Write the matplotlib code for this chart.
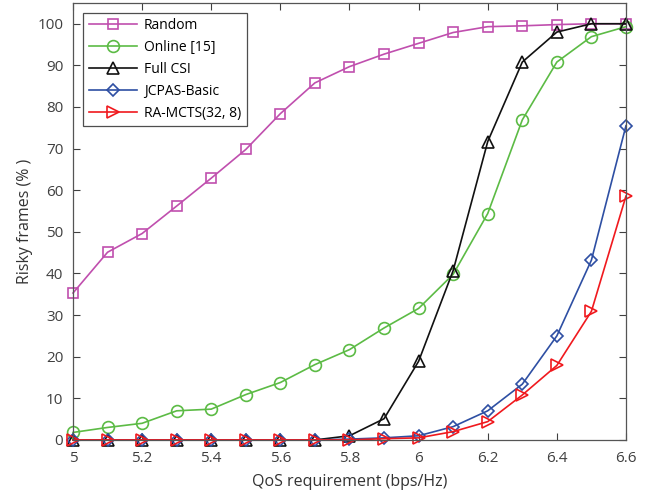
import matplotlib
matplotlib.use('Agg')
import matplotlib.pyplot as plt

plt.rcParams['font.family'] = ['Open Sans', 'DejaVu Sans']

qos = [5.0, 5.1, 5.2, 5.3, 5.4, 5.5, 5.6, 5.7, 5.8, 5.9, 6.0, 6.1, 6.2, 6.3, 6.4, 6.5, 6.6]

random_sel = [35.3, 45.1, 49.6, 56.2, 62.9, 69.8, 78.4, 85.8, 89.7, 92.7, 95.3, 97.9, 99.3, 99.5, 99.8, 100.0, 100.0]
online = [1.8, 3.0, 4.0, 7.0, 7.4, 10.9, 13.8, 18.1, 21.7, 26.9, 31.6, 39.8, 54.4, 76.9, 90.8, 96.9, 99.3]
full_csi = [0, 0, 0, 0, 0, 0, 0, 0, 1.0, 5.1, 18.9, 40.7, 71.7, 90.8, 98.0, 100.0, 100.0]
jcpas = [0, 0, 0, 0, 0, 0, 0, 0, 0.2, 0.5, 1.0, 3.2, 7.0, 13.4, 25.0, 43.2, 75.5]
ra_mcts = [0, 0, 0, 0, 0, 0, 0, 0, 0, 0.3, 0.5, 2.0, 4.4, 10.8, 17.9, 30.9, 58.6]

labels = ['Random', 'Online [15]', 'Full CSI', 'JCPAS-Basic', 'RA-MCTS(32, 8)']
colors = ['#c04fae', '#5cbb45', '#111111', '#2e4fa3', '#f0191e']
markers = ['s', 'o', '^', 'D', '>']
sizes = [7, 8.5, 9, 6.5, 9]

fig = plt.figure(figsize=(6.46, 4.91), dpi=100)
ax = fig.add_axes([0.113, 0.104, 0.856, 0.89])

series = [random_sel, online, full_csi, jcpas, ra_mcts]
for y, lab, c, m, s in zip(series, labels, colors, markers, sizes):
    ax.plot(qos, y, color=c, marker=m, markersize=s, markerfacecolor='none',
            markeredgewidth=1.2, linewidth=1.2, label=lab, clip_on=False)

ax.set_xlim(5, 6.6)
ax.set_ylim(0, 105)
ax.set_xticks([5, 5.2, 5.4, 5.6, 5.8, 6, 6.2, 6.4, 6.6])
ax.set_xticklabels(['5', '5.2', '5.4', '5.6', '5.8', '6', '6.2', '6.4', '6.6'])
ax.set_yticks(range(0, 101, 10))
ax.tick_params(direction='in', top=True, right=True, labelsize=11,
               colors='#404040', length=5, width=0.8)
ax.tick_params(axis='x', pad=8)
ax.tick_params(axis='y', pad=7)
for sp in ax.spines.values():
    sp.set_color('#555555')
    sp.set_linewidth(0.9)

ax.set_xlabel('QoS requirement (bps/Hz)', fontsize=11.5, color='#333333', labelpad=6)
ax.set_ylabel('Risky frames (% )', fontsize=11.5, color='#333333', labelpad=3)

leg = ax.legend(loc='upper left', fontsize=10, handlelength=3.5, handletextpad=0.5,
                borderpad=0.4, labelspacing=0.5, fancybox=False, edgecolor='#222222',
                bbox_to_anchor=(0.018, 0.978), borderaxespad=0.0)
leg.get_frame().set_linewidth(0.9)

fig.savefig('out.png', dpi=100)
